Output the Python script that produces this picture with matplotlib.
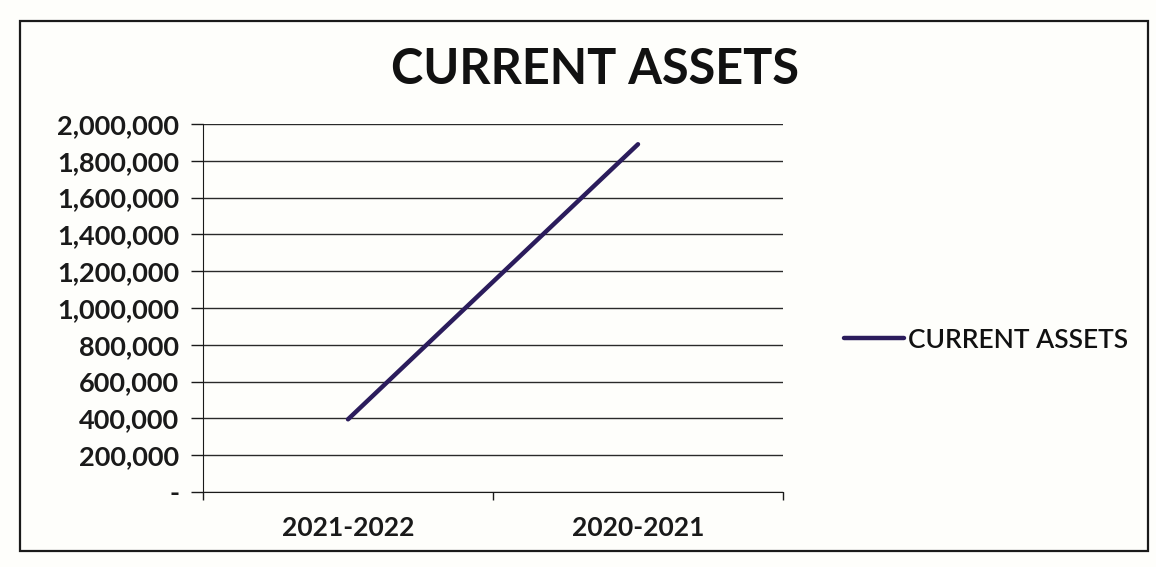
import matplotlib.pyplot as plt
from matplotlib.patches import Rectangle
from matplotlib.ticker import FuncFormatter

plt.rcParams['font.family'] = ['Lato', 'DejaVu Sans']

years = ["2021-2022", "2020-2021"]
current_assets = [395000, 1890000]
series_name = "CURRENT ASSETS"
yticks = [0, 200000, 400000, 600000, 800000, 1000000, 1200000,
          1400000, 1600000, 1800000, 2000000]

W, H = 1156, 567
fig = plt.figure(figsize=(W / 100, H / 100), dpi=100)
fig.patch.set_facecolor("#fefefb")

# chart border
fig.patches.append(Rectangle((20 / W, 16 / H), 1128 / W, 530 / H,
                             transform=fig.transFigure, fill=False,
                             edgecolor="#1a1a1a", linewidth=1.6))

left, right, top, bottom = 203, 783, 124, 492
ax = fig.add_axes([left / W, 1 - bottom / H, (right - left) / W, (bottom - top) / H])
ax.set_facecolor("none")

x = range(len(years))
line, = ax.plot(x, current_assets, color="#2b1c5c", linewidth=3.2,
                solid_capstyle="round", label=series_name)

ax.set_xlim(-0.5, len(years) - 0.5)
ax.set_ylim(0, 2000000)
ax.set_yticks(yticks)
ax.yaxis.set_major_formatter(FuncFormatter(lambda v, p: "-" if v == 0 else f"{int(v):,}"))
ax.grid(axis="y", color="#2a2a2a", linewidth=1.0)
ax.set_axisbelow(True)

ax.set_xticks([-0.5, 0.5, 1.5])
ax.set_xticklabels([])
ax.set_xticks(list(x), minor=True)
ax.set_xticklabels(years, minor=True, fontsize=19, fontweight="bold", color="#1a1a1a")
ax.tick_params(axis="x", which="minor", length=0, pad=17)
ax.tick_params(axis="x", which="major", length=6, width=1, color="#1a1a1a", direction="out")
ax.tick_params(axis="y", length=9, width=1, color="#1a1a1a", pad=8,
               labelsize=19.5, labelcolor="#1a1a1a")
for lab in ax.get_yticklabels():
    lab.set_fontweight("bold")

for s in ["top", "right"]:
    ax.spines[s].set_visible(False)
ax.spines["left"].set_color("#1a1a1a")
ax.spines["bottom"].set_color("#1a1a1a")

fig.text(595 / W, 1 - 70 / H, "CURRENT ASSETS", ha="center", va="center",
         fontsize=35, fontweight="bold", color="#111111")

fig.legend(handles=[line], loc="center left", bbox_to_anchor=(820 / W, 1 - 340 / H),
           frameon=False, fontsize=19, handlelength=2.3, handletextpad=0.15,
           labelcolor="#111111", prop={"weight": "semibold", "size": 19})

fig.savefig("out.png", dpi=100, facecolor=fig.get_facecolor())
